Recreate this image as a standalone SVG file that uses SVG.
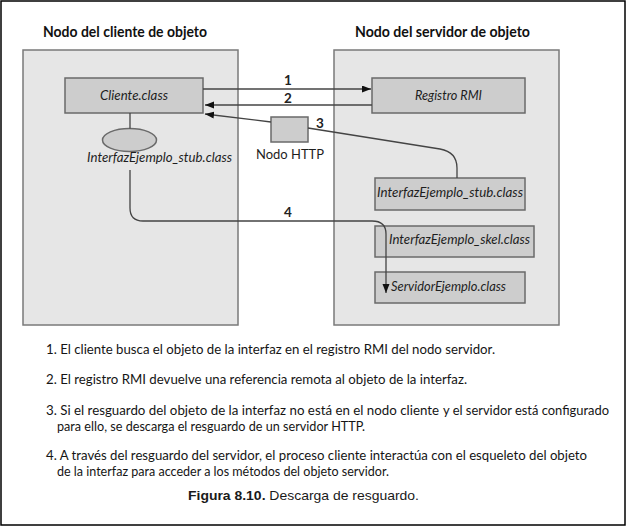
<svg xmlns="http://www.w3.org/2000/svg" width="627" height="527" viewBox="0 0 627 527">
<style>
.frame{fill:#fff;stroke:#000;stroke-width:1.5}
.cont{fill:#e6e6e6;stroke:#7a7a7a;stroke-width:1.5}
.box{fill:#cdcdcd;stroke:#6a6a6a;stroke-width:1.5}
.ttl{font-family:Lato,"Open Sans",sans-serif;font-weight:bold;font-size:14.5px;fill:#111}
.it{font-family:Lato,"Open Sans",sans-serif;font-style:italic;font-size:14px;fill:#1e1e1e}
.lbl{font-family:Lato,"Open Sans",sans-serif;font-size:14px;fill:#1e1e1e}
.num{font-family:Lato,"Open Sans",sans-serif;font-weight:bold;font-size:13.5px;fill:#222}
.body{font-family:Lato,"Open Sans",sans-serif;font-size:14px;fill:#151515}
.cap{font-family:"Liberation Sans",Arial,sans-serif;font-size:13.5px;fill:#1a1a1a}
.ln{fill:none;stroke:#444;stroke-width:1.3}
</style>
<defs>
<marker id="ah" markerUnits="userSpaceOnUse" markerWidth="10" markerHeight="8" refX="9" refY="3.5" orient="auto">
<path d="M0,0 L9,3.5 L0,7 z" fill="#111"/>
</marker>
</defs>
<rect class="frame" x="1" y="1" width="624" height="524"/>

<g id="cliente-node">
<text class="ttl" x="43" y="37" textLength="164" lengthAdjust="spacingAndGlyphs">Nodo del cliente de objeto</text>
<rect class="cont" x="23" y="50" width="215" height="275"/>
</g>
<g id="servidor-node">
<text class="ttl" x="355" y="37" textLength="175" lengthAdjust="spacingAndGlyphs">Nodo del servidor de objeto</text>
<rect class="cont" x="334" y="50" width="225" height="275"/>
</g>

<g id="cliente-class">
<rect class="box" x="65" y="78" width="138" height="35"/>
<text class="it" x="100" y="100" textLength="68" lengthAdjust="spacingAndGlyphs">Cliente.class</text>
</g>
<g id="stub-cliente">
<ellipse cx="129.5" cy="140" rx="27" ry="11.5" fill="#cdcdcd" stroke="#6a6a6a" stroke-width="1.5"/>
<text class="it" x="87" y="162" textLength="145" lengthAdjust="spacingAndGlyphs">InterfazEjemplo_stub.class</text>
</g>
<g id="nodo-http">
<rect class="box" x="271" y="117" width="37" height="25"/>
<text class="lbl" x="256" y="159" textLength="68" lengthAdjust="spacingAndGlyphs">Nodo HTTP</text>
</g>
<g id="registro-rmi">
<rect class="box" x="372" y="78" width="153" height="35"/>
<text class="it" x="415" y="100" textLength="67" lengthAdjust="spacingAndGlyphs">Registro RMI</text>
</g>
<g id="stub-servidor">
<rect class="box" x="375" y="178" width="150" height="32"/>
<text class="it" x="377" y="197" textLength="146" lengthAdjust="spacingAndGlyphs">InterfazEjemplo_stub.class</text>
</g>
<g id="skel-servidor">
<rect class="box" x="375" y="226" width="159" height="31"/>
<text class="it" x="389" y="244" textLength="141" lengthAdjust="spacingAndGlyphs">InterfazEjemplo_skel.class</text>
</g>
<g id="servidor-ejemplo">
<rect class="box" x="375" y="272" width="150" height="31"/>
<text class="it" x="391" y="291" textLength="115" lengthAdjust="spacingAndGlyphs">ServidorEjemplo.class</text>
</g>

<g id="connectors">
<line class="ln" x1="130" y1="113" x2="130" y2="128.5"/>
<line class="ln" x1="203" y1="89" x2="371" y2="89" marker-end="url(#ah)"/>
<line class="ln" x1="372" y1="105" x2="205" y2="105" marker-end="url(#ah)"/>
<line class="ln" x1="271" y1="122" x2="205" y2="114" marker-end="url(#ah)"/>
<path class="ln" d="M308,128 L440,149 Q457,152 457,168 L457,178"/>
<path class="ln" d="M130,170 L130,208 Q130,221 143,221 L372,221 Q386,221 386,234 L386,293" marker-end="url(#ah)"/>
<text class="num" x="288" y="85" text-anchor="middle">1</text>
<text class="num" x="288" y="103" text-anchor="middle">2</text>
<text class="num" x="320" y="128" text-anchor="middle">3</text>
<text class="num" x="288" y="217" text-anchor="middle">4</text>
</g>

<g id="notes">
<text class="body" x="46" y="354" textLength="449" lengthAdjust="spacingAndGlyphs">1. El cliente busca el objeto de la interfaz en el registro RMI del nodo servidor.</text>
<text class="body" x="46" y="384" textLength="421" lengthAdjust="spacingAndGlyphs">2. El registro RMI devuelve una referencia remota al objeto de la interfaz.</text>
<text class="body" x="46" y="415" textLength="393" lengthAdjust="spacingAndGlyphs">3. Si el resguardo del objeto de la interfaz no está en el nodo cliente</text>
<text class="body" x="443" y="415" textLength="166" lengthAdjust="spacingAndGlyphs">y el servidor está configurado</text>
<text class="body" x="57" y="431" textLength="308" lengthAdjust="spacingAndGlyphs">para ello, se descarga el resguardo de un servidor HTTP.</text>
<text class="body" x="46" y="460" textLength="541" lengthAdjust="spacingAndGlyphs">4. A través del resguardo del servidor, el proceso cliente interactúa con el esqueleto del objeto</text>
<text class="body" x="57" y="476" textLength="332" lengthAdjust="spacingAndGlyphs">de la interfaz para acceder a los métodos del objeto servidor.</text>
<text class="cap" x="188" y="500" textLength="231" lengthAdjust="spacingAndGlyphs"><tspan font-weight="bold">Figura 8.10.</tspan> Descarga de resguardo.</text>
</g>
</svg>
